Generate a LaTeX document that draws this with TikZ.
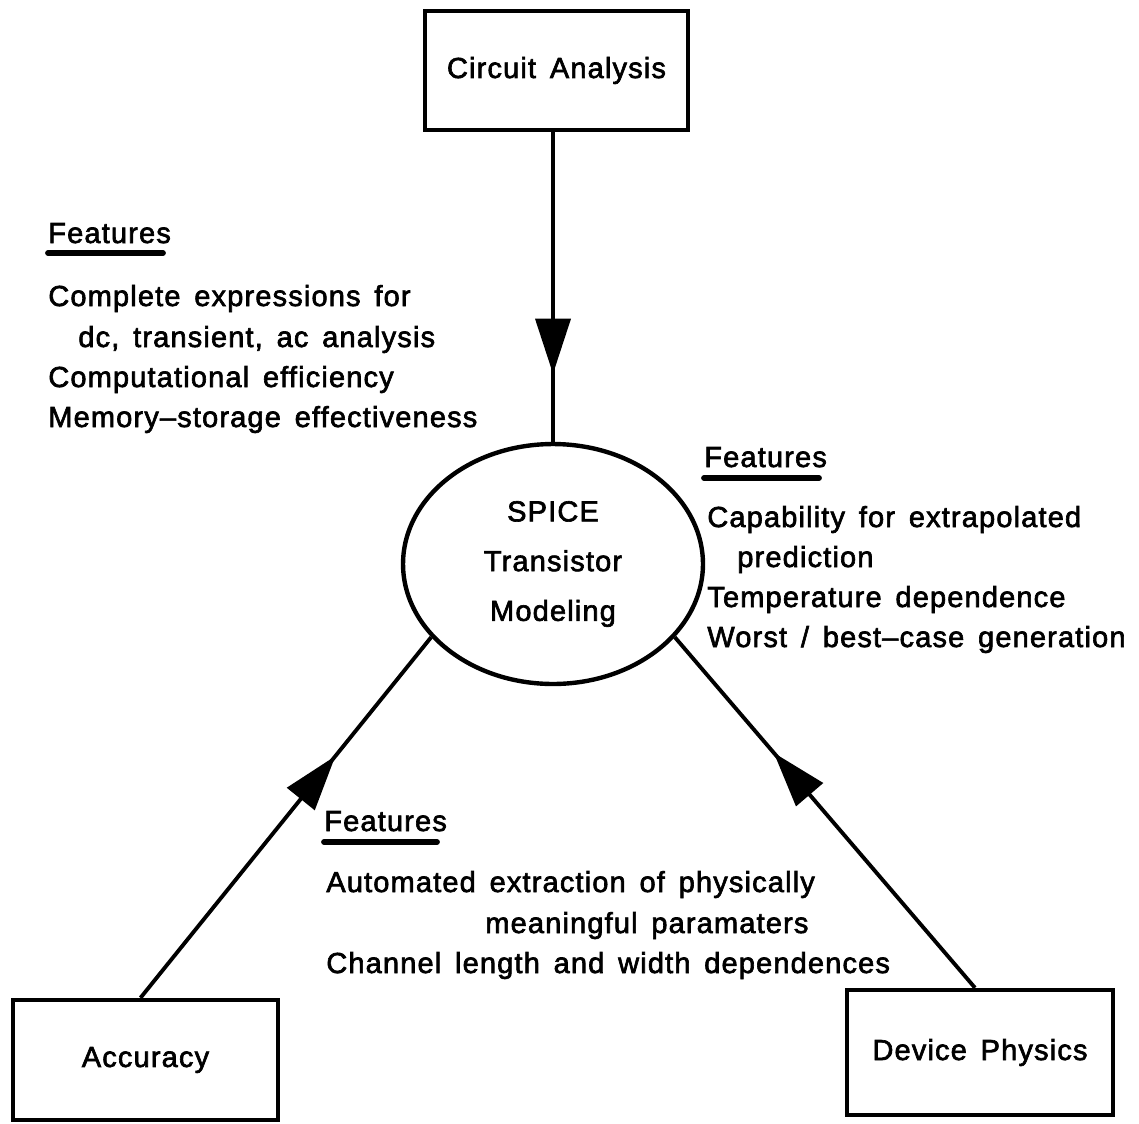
\documentclass[tikz,border=0pt]{standalone}
\usepackage{fontspec}
\setmainfont{Liberation Sans}[LetterSpace=4,WordSpace=1.5,FakeBold=2.2]
\usetikzlibrary{shapes.geometric,decorations.markings,calc}

\begin{document}
\begin{tikzpicture}[x=0.02cm,y=-0.02cm,
  every node/.style={font=\fontsize{16.5}{22}\selectfont},
  box/.style={draw,rectangle,line width=2.5pt,inner sep=0pt},
  lbl/.style={anchor=base west,inner sep=0pt},
  uline/.style={line width=3.3pt,line cap=round},
  link/.style={line width=2.2pt,postaction={decorate},
    decoration={markings,mark=at position #1 with
      {\fill (0,0) -- (-1.1cm,0.36cm) -- (-1.1cm,-0.36cm) -- cycle;}}}]

\useasboundingbox (0,0) rectangle (1139,1123);

% boxes and the central ellipse
\node[box,minimum width=5.26cm,minimum height=2.38cm] (cir) at (556.5,70.5) {Circuit Analysis};
\node[box,minimum width=5.3cm,minimum height=2.4cm] (acc) at (145.5,1060) {Accuracy};
\node[box,minimum width=5.32cm,minimum height=2.5cm] (dev) at (980,1052.5) {Device Physics};
\node[draw,ellipse,line width=2.5pt,minimum width=6cm,minimum height=4.8cm,inner sep=0pt,
      align=center,font=\fontsize{16.5}{28.3}\selectfont] (spice) at (553,564)
      {SPICE\\Transistor\\Modeling};

% connectors with mid-line arrowheads
\draw[link=0.78] (cir.south -| spice.north) -- (spice.north);
\draw[link=0.67] ([xshift=-0.1cm]acc.north) -- (spice.-149);
\draw[link=0.67] ([xshift=-0.1cm]dev.north) -- (spice.-31);

% feature list: circuit analysis
\node[lbl] (f1) at (48,243) {Features};
\draw[uline] ($(f1.base west)+(0,10)$) -- ++(115,0);
\node[lbl] (f1a) at (48,306) {Complete expressions for};
\node[lbl] (f1b) at (78,347) {dc, transient, ac analysis};
\node[lbl] (f1c) at (48,387) {Computational efficiency};
\node[lbl] (f1d) at (48,427) {Memory–storage effectiveness};

% feature list: device physics
\node[lbl] (f2) at (704,467) {Features};
\draw[uline] ($(f2.base west)+(0,11)$) -- ++(115,0);
\node[lbl] (f2a) at (707,527) {Capability for extrapolated};
\node[lbl] (f2b) at (737,567) {prediction};
\node[lbl] (f2c) at (707,607) {Temperature dependence};
\node[lbl] (f2d) at (707,647) {Worst / best–case generation};

% feature list: accuracy
\node[lbl] (f3) at (324,831) {Features};
\draw[uline] ($(f3.base west)+(0,11)$) -- ++(113,0);
\node[lbl] (f3a) at (326,892) {Automated extraction of physically};
\node[lbl] (f3b) at (485,933) {meaningful paramaters};
\node[lbl] (f3c) at (326,973) {Channel length and width dependences};

\end{tikzpicture}
\end{document}
